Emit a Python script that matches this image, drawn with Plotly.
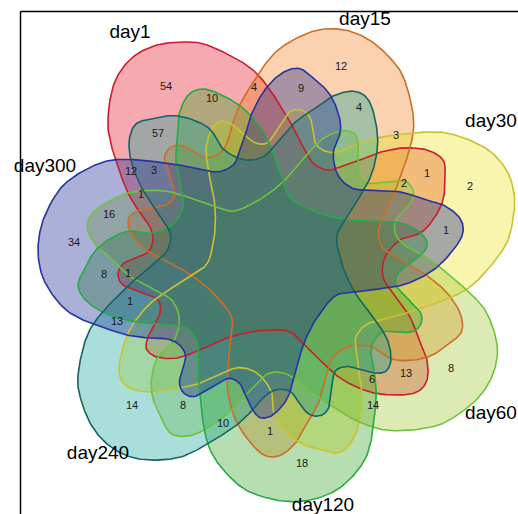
import numpy as np
import plotly.graph_objects as go

# ---- data ----
set_names = ["day1", "day15", "day30", "day60", "day120", "day240", "day300"]
region_counts = [54, 10, 4, 9, 12, 4, 3, 1, 2, 2, 1, 57, 12, 3, 1, 16, 34,
                 8, 1, 1, 13, 14, 8, 10, 1, 18, 14, 6, 13, 8]

# ---- styling ----
fill_rgb = [(229, 12, 26), (241, 126, 26), (235, 226, 26), (155, 198, 40),
            (50, 160, 30), (10, 160, 150), (15, 29, 140)]
line_rgb = [(200, 30, 45), (205, 110, 40), (200, 195, 50), (110, 195, 60),
            (40, 170, 70), (20, 100, 100), (40, 50, 160)]
FILL_ALPHA = 0.35

# ---- geometry (screen-like coords relative to diagram centre, y down) ----
CX, CY = 275, 265
base_shape_px = [
    (187, 42), (207, 45), (233, 57), (253, 70), (268, 87), (283, 110), (293, 127),
    (303, 147), (313, 163), (327, 170), (340, 167), (360, 160), (377, 153),
    (403, 148), (427, 150), (443, 160), (445, 177), (443, 200), (433, 220),
    (420, 233), (400, 240), (385, 257), (383, 277), (393, 293), (410, 317),
    (420, 343), (427, 360), (427, 380), (417, 392), (397, 395), (370, 392),
    (343, 380), (323, 363), (307, 347), (290, 332), (270, 330), (250, 332),
    (227, 338), (200, 350), (177, 358), (157, 357), (147, 350), (147, 340),
    (153, 327), (160, 313), (158, 300), (143, 293), (123, 285), (118, 274),
    (123, 264), (135, 258), (148, 252), (153, 240), (150, 227), (140, 213),
    (128, 193), (118, 167), (112, 148), (108, 127), (110, 100), (117, 77),
    (133, 57), (157, 45)]
# per-set pull-in of the outer lobe (px) and small angular nudge (deg)
lobe_trim = [0, 5, 1, 6, 11, 5, 11]
lobe_turn = [0, 0, 0, -2.5, 0, 0, 0]
R0, R1 = 195.0, 245.0

count_pos_px = [(166, 87), (212, 99), (254, 88), (301, 89), (341, 67), (359, 108),
                (396, 136), (427, 174), (404, 184), (470, 187), (446, 231),
                (158, 134), (131, 172), (154, 171), (141, 195), (109, 215),
                (74, 243), (104, 275), (128, 274), (130, 302), (117, 322),
                (132, 406), (183, 406), (223, 424), (270, 432), (302, 464),
                (373, 406), (372, 380), (406, 374), (451, 369)]
name_pos_px = [(130, 33), (365, 20), (491, 122), (491, 414), (323, 506),
               (98, 454), (45, 167)]


def catmull_rom_closed(pts, n=12):
    pts = np.asarray(pts, float)
    m = len(pts)
    out = []
    for i in range(m):
        p0, p1, p2, p3 = pts[(i - 1) % m], pts[i], pts[(i + 1) % m], pts[(i + 2) % m]
        for t in np.linspace(0, 1, n, endpoint=False):
            t2, t3 = t * t, t * t * t
            out.append(0.5 * ((2 * p1) + (-p0 + p2) * t + (2 * p0 - 5 * p1 + 4 * p2 - p3) * t2
                              + (-p0 + 3 * p1 - 3 * p2 + p3) * t3))
    out.append(out[0])
    return np.array(out)


base = np.array([(x - CX, y - CY) for x, y in base_shape_px], float)
curve = catmull_rom_closed(base)
rad = np.hypot(curve[:, 0], curve[:, 1])
ang = np.arctan2(curve[:, 1], curve[:, 0])
tt = np.clip((rad - R0) / (R1 - R0), 0, None) ** 2
tl = np.clip((rad - 170.0) / (R1 - 170.0), 0, 1)

fig = go.Figure()
shapes_xy = []
for k in range(len(set_names)):
    rk = rad - lobe_trim[k] * tt
    ak = ang + np.deg2rad(360.0 / 7 * k + lobe_turn[k] * tl)
    shapes_xy.append((rk * np.cos(ak), rk * np.sin(ak)))

for k, (xr, yr) in enumerate(shapes_xy):
    r, g, b = fill_rgb[k]
    fig.add_trace(go.Scatter(x=xr, y=yr, mode="lines", fill="toself",
                             fillcolor=f"rgba({r},{g},{b},{FILL_ALPHA})",
                             line=dict(width=0), hoverinfo="skip", showlegend=False))
for k, (xr, yr) in enumerate(shapes_xy):
    r, g, b = line_rgb[k]
    fig.add_trace(go.Scatter(x=xr, y=yr, mode="lines",
                             line=dict(color=f"rgb({r},{g},{b})", width=1.6),
                             hoverinfo="skip", showlegend=False))

fig.add_trace(go.Scatter(
    x=[p[0] - CX for p in count_pos_px], y=[p[1] - CY for p in count_pos_px],
    mode="text", text=[str(v) for v in region_counts],
    textfont=dict(family="Liberation Sans, Arial", size=11, color="#1a1a1a"),
    hoverinfo="skip", showlegend=False))
fig.add_trace(go.Scatter(
    x=[p[0] - CX for p in name_pos_px], y=[p[1] - CY for p in name_pos_px],
    mode="text", text=set_names,
    textfont=dict(family="Liberation Sans, Arial", size=19, color="black"),
    hoverinfo="skip", showlegend=False, cliponaxis=False))

W, H = 518, 514
fig.update_layout(
    width=W, height=H, margin=dict(l=0, r=0, t=0, b=0),
    paper_bgcolor="white", plot_bgcolor="white",
    xaxis=dict(range=[-CX, W - CX], visible=False, fixedrange=True),
    yaxis=dict(range=[H - CY, -CY], visible=False, fixedrange=True),
    shapes=[
        dict(type="line", xref="x", yref="y", x0=20.5 - CX, x1=20.5 - CX,
             y0=11.5 - CY, y1=H - CY + 5, line=dict(color="black", width=1.5)),
        dict(type="line", xref="x", yref="y", x0=20.5 - CX, x1=W - CX + 5,
             y0=11.5 - CY, y1=11.5 - CY, line=dict(color="black", width=1.5)),
    ],
)
fig.write_html("out.html", config={"displayModeBar": False},
               post_script="document.body.style.margin='0';"
                           "document.body.style.overflow='hidden';")
